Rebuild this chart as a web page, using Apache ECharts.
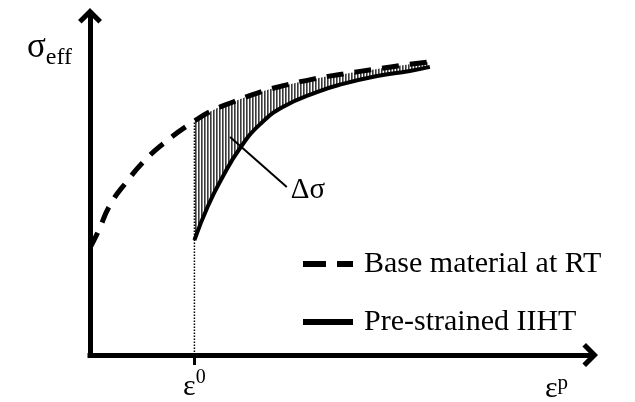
<!DOCTYPE html>
<html>
<head>
<meta charset="utf-8">
<script src="https://cdn.jsdelivr.net/npm/echarts@6/dist/echarts.min.js"></script>
<style>
  html, body { margin: 0; padding: 0; background: #fff; }
  #chart { width: 635px; height: 402px; }
</style>
</head>
<body>
<div id="chart"></div>
<script>
// Flow curves, plastic strain (x) vs. effective stress (y), arbitrary units
const prestrain = 2.08;
const baseMaterial = [
  [0, 3.14], [0.16, 3.61], [0.40, 4.40], [0.74, 5.10], [1.10, 5.72], [1.53, 6.28],
  [2.08, 6.86], [2.45, 7.18], [2.85, 7.42], [3.39, 7.71], [3.92, 7.92], [4.44, 8.09],
  [5.04, 8.24], [5.72, 8.39], [6.24, 8.50], [6.73, 8.59]
];
const preStrained = [
  [2.08, 3.37], [2.35, 4.37], [2.63, 5.19], [2.99, 6.07], [3.39, 6.77], [3.84, 7.27],
  [4.52, 7.71], [5.04, 7.95], [5.72, 8.18], [6.37, 8.33], [6.77, 8.45]
];
const deltaLeader = [[2.79, 6.39], [3.92, 4.93]];
const seriesNames = ['Base material at RT', 'Pre-strained IIHT'];

const FONT = '"Liberation Serif", "Times New Roman", serif';

// Part of the base curve beyond the pre-strain: the top edge of the hatched gap
const gapTop = baseMaterial.filter(p => p[0] >= prestrain);
const baseAtPrestrain = baseMaterial.find(p => p[0] === prestrain);

// Vertical hatching pattern
const hatch = document.createElement('canvas');
hatch.width = 3; hatch.height = 2;
(function () {
  const c = hatch.getContext('2d');
  c.fillStyle = '#fff'; c.fillRect(0, 0, 3, 2);
  c.fillStyle = '#3a3a3a'; c.fillRect(0, 0, 1, 2);
  c.fillStyle = '#858585'; c.fillRect(1, 0, 1, 2);
})();

// Open chevron arrow head, pointing up
const ARROW = 'path://M10,0 L20,10 L17,13 L10,6 L3,13 L0,10 Z';

const axisLineStyle = {
  show: true,
  symbol: ['none', ARROW],
  symbolSize: [24, 15.6],
  symbolOffset: [0, -1.8],
  lineStyle: { color: '#000', width: 5, cap: 'square' }
};

const chart = echarts.init(document.getElementById('chart'), null, { renderer: 'canvas' });
chart.setOption({
  backgroundColor: '#fff',
  animation: false,
  grid: { left: 90, right: 43, top: 14, bottom: 47, outerBoundsMode: 'none' },
  xAxis: {
    type: 'value', min: 0, max: 10, z: 10,
    axisLine: axisLineStyle,
    splitLine: { show: false },
    axisTick: {
      show: true, customValues: [prestrain], length: 10,
      lineStyle: { color: '#000', width: 3 }
    },
    axisLabel: {
      show: true, customValues: [prestrain], margin: 17,
      formatter: () => '{e|ε}{s|0}',
      rich: {
        e: { fontFamily: FONT, fontSize: 30, lineHeight: 30, verticalAlign: 'bottom', color: '#000' },
        s: { fontFamily: FONT, fontSize: 20, lineHeight: 20, padding: [0, 0, 14, 0], verticalAlign: 'bottom', color: '#000' }
      }
    },
    name: '{e|ε}{s|p}',
    nameLocation: 'end',
    nameGap: -24,
    nameTextStyle: {
      align: 'right', verticalAlign: 'top', padding: [19, 0, 0, 0],
      rich: {
        e: { fontFamily: FONT, fontSize: 30, lineHeight: 30, verticalAlign: 'bottom', color: '#000' },
        s: { fontFamily: FONT, fontSize: 21, lineHeight: 21, padding: [0, 0, 10, 0], verticalAlign: 'bottom', color: '#000' }
      }
    }
  },
  yAxis: {
    type: 'value', min: 0, max: 10, z: 10,
    axisLine: axisLineStyle,
    splitLine: { show: false },
    axisTick: { show: false },
    axisLabel: { show: false },
    name: '{s|σ}{b|eff}',
    nameLocation: 'end',
    nameGap: -16,
    nameTextStyle: {
      align: 'right', verticalAlign: 'top', padding: [0, 18, 0, 0],
      rich: {
        s: { fontFamily: FONT, fontSize: 35, lineHeight: 35, verticalAlign: 'top', color: '#000' },
        b: { fontFamily: FONT, fontSize: 24, lineHeight: 24, padding: [16, 0, 0, 0], verticalAlign: 'top', color: '#000' }
      }
    }
  },
  legend: {
    orient: 'vertical', left: 300, top: 249, padding: 0,
    itemWidth: 50, itemHeight: 14, itemGap: 28,
    selectedMode: false,
    textStyle: { fontFamily: FONT, fontSize: 30, lineHeight: 30, color: '#000', padding: [0, 0, 0, 6] },
    data: [
      { name: seriesNames[0], lineStyle: { type: [23, 11], width: 6, color: '#000' }, itemStyle: { opacity: 0 } },
      { name: seriesNames[1], lineStyle: { type: 'solid', width: 6, color: '#000' }, itemStyle: { opacity: 0 } }
    ]
  },
  series: [
    {
      name: 'gap', type: 'line', z: 1, data: gapTop, smooth: true,
      symbol: 'none', lineStyle: { width: 0 },
      areaStyle: { color: { image: hatch, repeat: 'repeat' }, opacity: 1 },
      silent: true
    },
    {
      name: seriesNames[1], type: 'line', z: 2, data: preStrained, smooth: true,
      symbol: 'none', lineStyle: { color: '#000', width: 4 },
      areaStyle: { color: '#fff', opacity: 1 },
      itemStyle: { color: '#000' }
    },
    {
      name: seriesNames[0], type: 'line', z: 3, data: baseMaterial, smooth: true,
      symbol: 'none', lineStyle: { color: '#000', width: 5, type: [17, 11] },
      itemStyle: { color: '#000' }
    },
    {
      name: 'pre-strain', type: 'line', z: 4,
      data: [[prestrain, 0], baseAtPrestrain],
      symbol: 'none', lineStyle: { color: '#000', width: 1.5, type: [1.5, 1.5] },
      silent: true
    },
    {
      name: 'delta', type: 'line', z: 4, data: deltaLeader,
      symbol: 'none', lineStyle: { color: '#000', width: 2 },
      endLabel: {
        show: true, formatter: 'Δσ', distance: 4, offset: [0, 4],
        fontFamily: FONT, fontSize: 29, color: '#000'
      },
      silent: true
    }
  ]
});
</script>
</body>
</html>
